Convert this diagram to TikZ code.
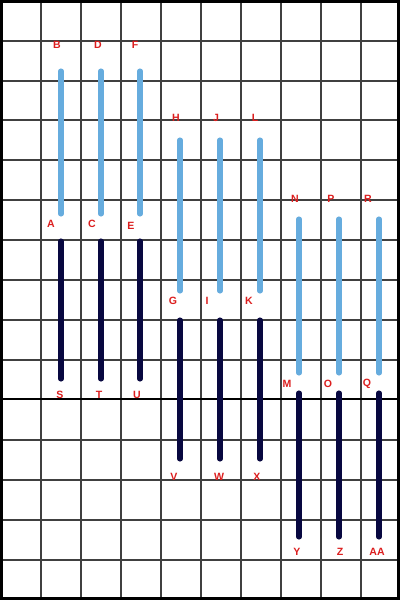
\documentclass[tikz,border=0pt]{standalone}
\usepackage{fontspec}
\setmainfont{Liberation Sans}
\begin{document}
\begin{tikzpicture}[x=0.025cm,y=-0.025cm,
  gridline/.style={draw=black!75,line width=0.75pt},
  axisline/.style={draw=black,line width=1.8pt},
  lightbar/.style={draw={rgb,255:red,102;green,172;blue,222},line width=3.6pt,line cap=round},
  darkbar/.style={draw={rgb,255:red,8;green,8;blue,64},line width=3.6pt,line cap=round},
  lbl/.style={text={rgb,255:red,220;green,30;blue,30},font=\bfseries\fontsize{7.5}{8}\selectfont,inner sep=0pt}]
\useasboundingbox (0,0) rectangle (400,600);
\fill[white] (0,0) rectangle (400,600);
% grid
\foreach \x in {41,81,121,161,201,241,281,321,361} \draw[gridline] (\x,0) -- (\x,600);
\foreach \y in {41,81,120,160,200,240,280,320,360,440,480,520,560} \draw[gridline] (0,\y) -- (400,\y);
\draw[axisline] (0,399) -- (400,399);
% frame
\draw[black,line width=2.2pt] (1.5,1.5) rectangle (398.5,598.5);
% group 1
\foreach \x in {61,101,140} {
  \draw[lightbar] (\x,71) -- (\x,214);
  \draw[darkbar] (\x,241) -- (\x,379);
}
% group 2
\foreach \x in {180,220,260} {
  \draw[lightbar] (\x,140) -- (\x,291);
  \draw[darkbar] (\x,320) -- (\x,459);
}
% group 3
\foreach \x in {299,339,379} {
  \draw[lightbar] (\x,219) -- (\x,373);
  \draw[darkbar] (\x,393) -- (\x,537);
}
% labels
\node[lbl] (B) at (57,45) {B};
\node[lbl] (D) at (98,45) {D};
\node[lbl] (F) at (135,45) {F};
\node[lbl] (H) at (176,118) {H};
\node[lbl] (J) at (216,118) {J};
\node[lbl] (L) at (255,118) {L};
\node[lbl] (A) at (51,224) {A};
\node[lbl] (C) at (92,224) {C};
\node[lbl] (E) at (131,226) {E};
\node[lbl] (N) at (295,199) {N};
\node[lbl] (P) at (331,199) {P};
\node[lbl] (R) at (368,199) {R};
\node[lbl] (G) at (173,301) {G};
\node[lbl] (I) at (207,301) {I};
\node[lbl] (K) at (249,301) {K};
\node[lbl] (M) at (287,384) {M};
\node[lbl] (O) at (328,384) {O};
\node[lbl] (Q) at (367,384) {Q};
\node[lbl] (S) at (60,395) {S};
\node[lbl] (T) at (99,395) {T};
\node[lbl] (U) at (137,395) {U};
\node[lbl] (V) at (174,477) {V};
\node[lbl] (W) at (219,477) {W};
\node[lbl] (X) at (257,477) {X};
\node[lbl] (Y) at (297,552) {Y};
\node[lbl] (Z) at (340,552) {Z};
\node[lbl] (AA) at (377,552) {AA};
\end{tikzpicture}
\end{document}
